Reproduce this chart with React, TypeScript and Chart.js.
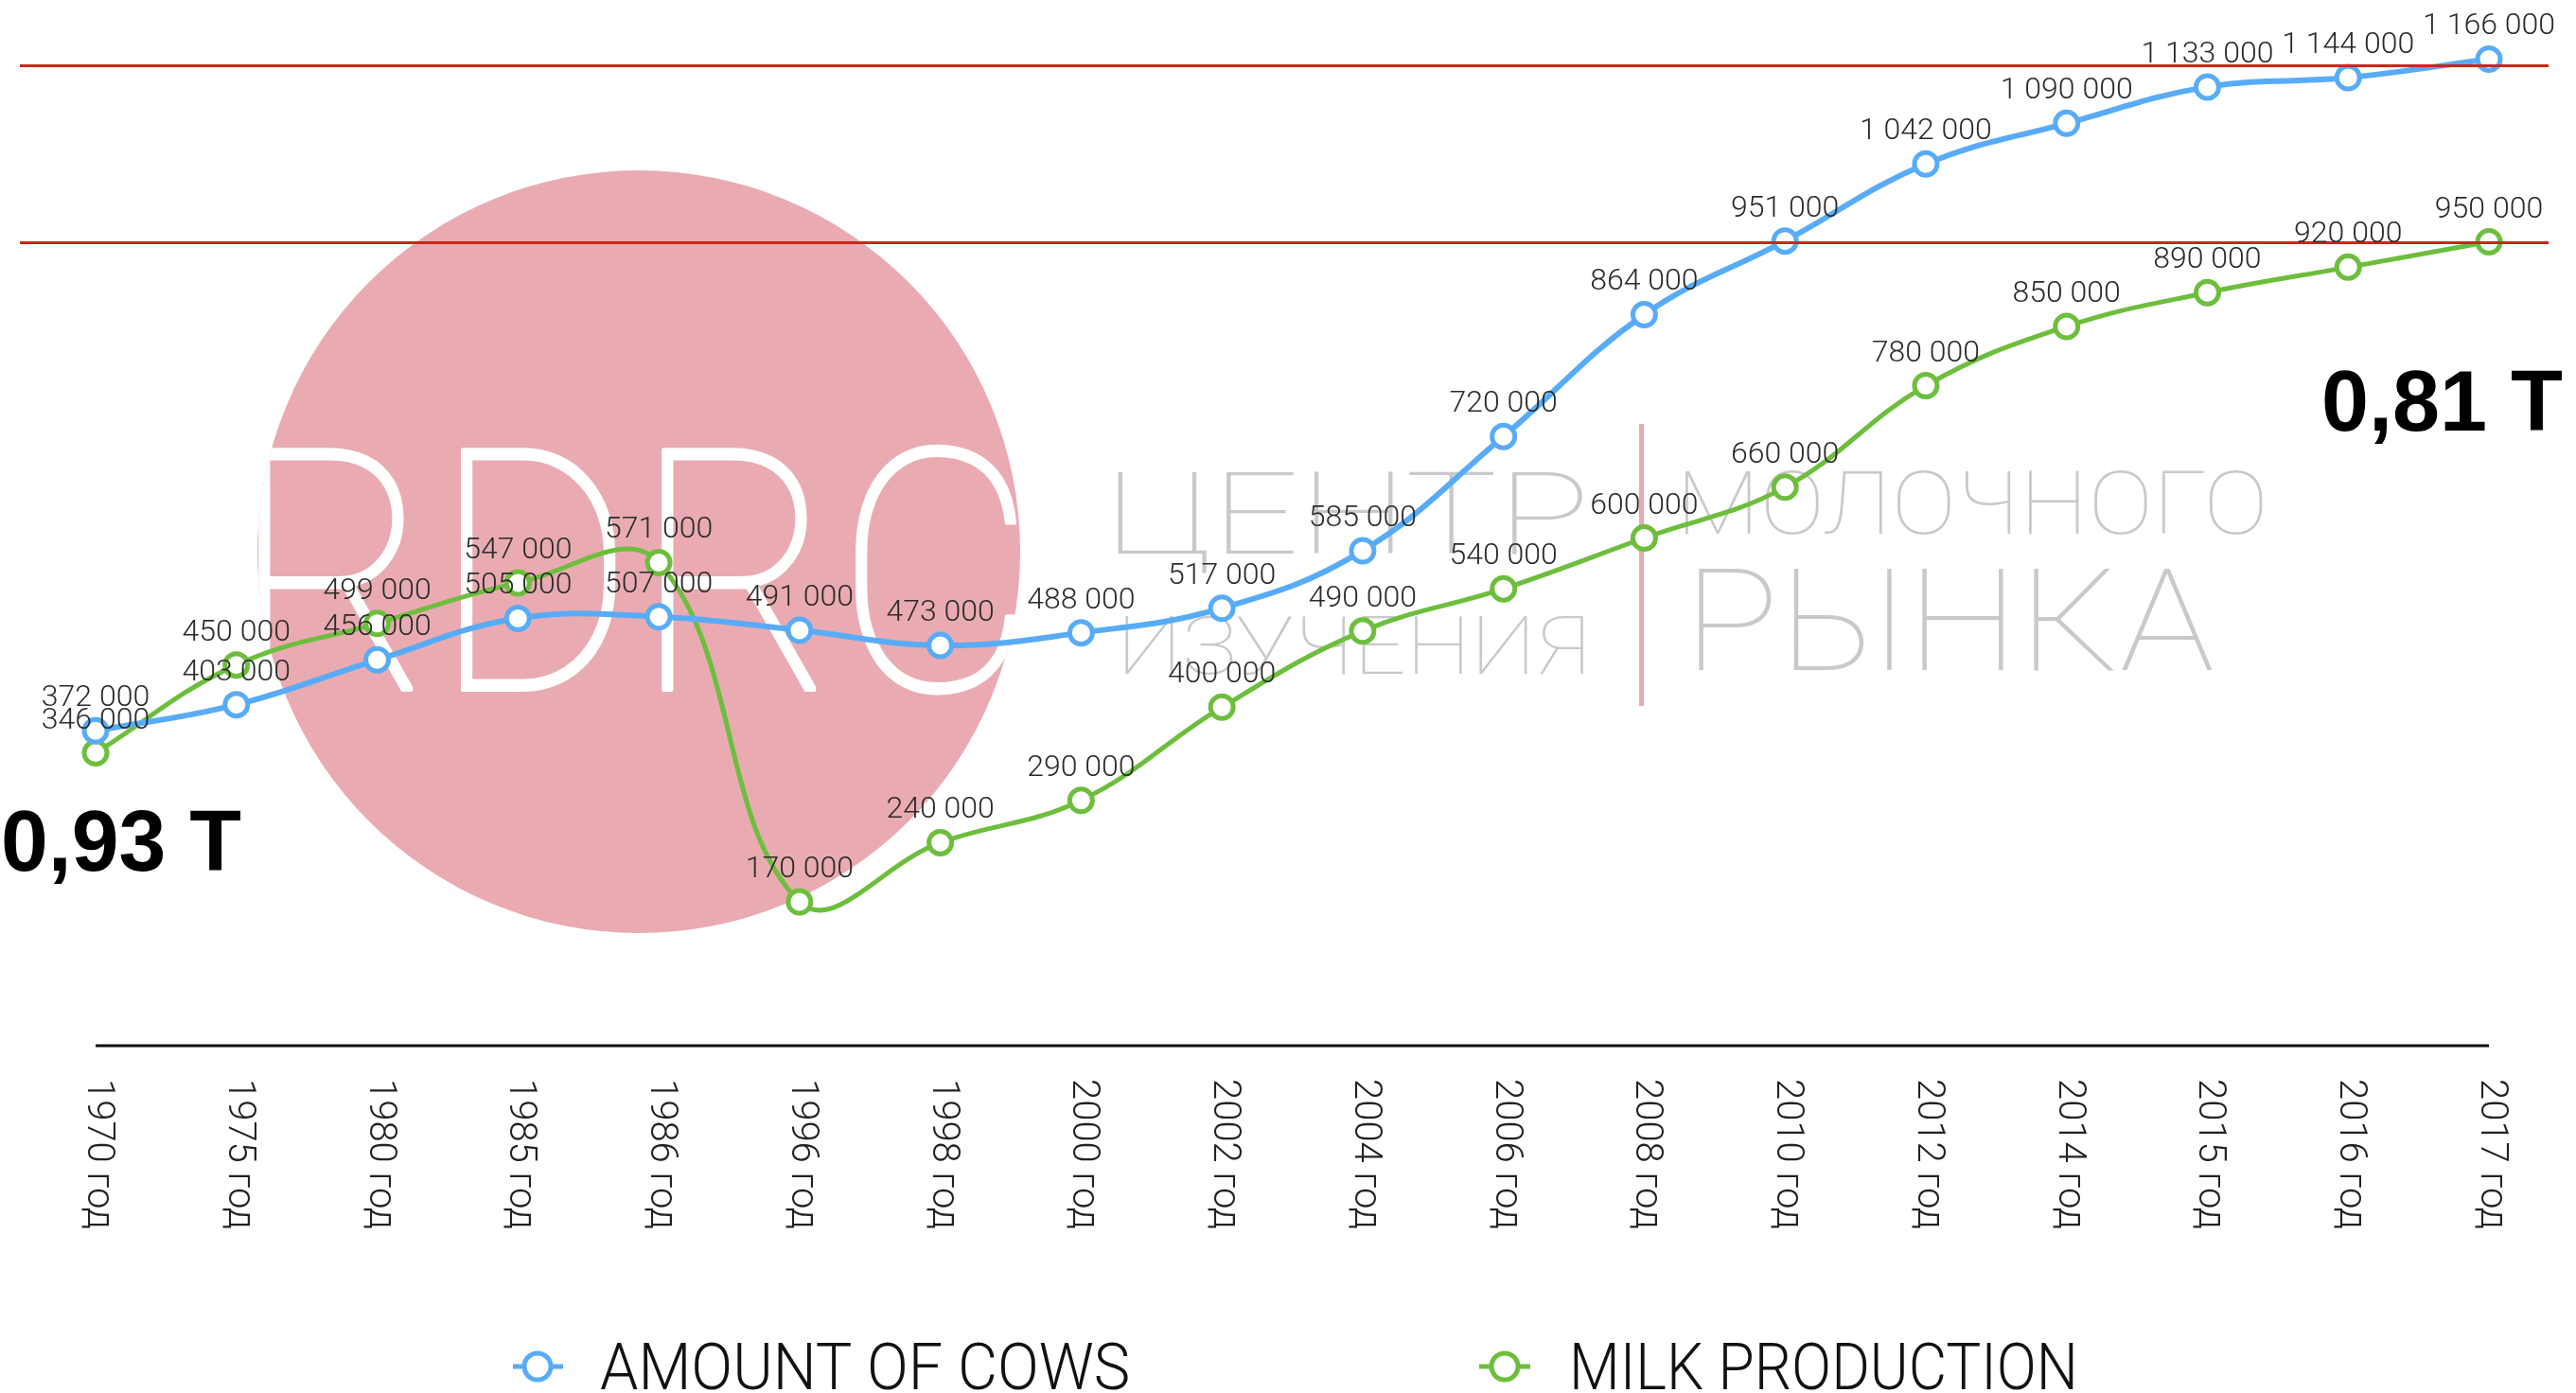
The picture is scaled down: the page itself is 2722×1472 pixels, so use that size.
import React, { useEffect, useRef } from "react";
import { Chart, registerables } from "chart.js";

Chart.register(...registerables);

const years = [
  "1970 год", "1975 год", "1980 год", "1985 год", "1986 год", "1996 год",
  "1998 год", "2000 год", "2002 год", "2004 год", "2006 год", "2008 год",
  "2010 год", "2012 год", "2014 год", "2015 год", "2016 год", "2017 год",
];
const cows = [
  372000, 403000, 456000, 505000, 507000, 491000, 473000, 488000, 517000,
  585000, 720000, 864000, 951000, 1042000, 1090000, 1133000, 1144000, 1166000,
];
const milk = [
  346000, 450000, 499000, 547000, 571000, 170000, 240000, 290000, 400000,
  490000, 540000, 600000, 660000, 780000, 850000, 890000, 920000, 950000,
];
const seriesNames = ["AMOUNT OF COWS", "MILK PRODUCTION"];
const refLines = [1159000, 950000];
const leftNote = "0,93 T";
const rightNote = "0,81 T";

const BLUE = "#58acf7";
const GREEN = "#6dbe3d";
const RED = "#c9281a";
const PINK = "#e9abb1";
const GRAY = "#c9c9c9";

const fmt = (v: number) => String(v).replace(/\B(?=(\d{3})+(?!\d))/g, " ");

function fitText(ctx: CanvasRenderingContext2D, text: string, x: number, baseline: number, width: number, font: string, color: string, stroke = 0) {
  ctx.save();
  ctx.font = font;
  const w = ctx.measureText(text).width || 1;
  ctx.translate(x, baseline);
  ctx.scale(width / w, 1);
  ctx.fillStyle = color;
  ctx.textAlign = "left";
  ctx.textBaseline = "alphabetic";
  ctx.fillText(text, 0, 0);
  if (stroke > 0) {
    ctx.strokeStyle = color;
    ctx.lineWidth = stroke;
    ctx.lineJoin = "round";
    ctx.strokeText(text, 0, 0);
  }
  ctx.restore();
}

const watermark = {
  id: "watermark",
  beforeDatasetsDraw(chart: any) {
    const ctx: CanvasRenderingContext2D = chart.ctx;
    ctx.save();
    ctx.beginPath();
    ctx.arc(675, 583, 403, 0, Math.PI * 2);
    ctx.fillStyle = PINK;
    ctx.fill();
    ctx.clip();
    fitText(ctx, "RDRC", 244, 729, 850, "100 357px Roboto, Lato, sans-serif", "#ffffff", 4);
    ctx.restore();

    const thin = (s: number) => `100 ${s}px Roboto, Lato, sans-serif`;
    fitText(ctx, "ЦЕНТР", 1167, 585, 513, thin(120), GRAY);
    fitText(ctx, "ИЗУЧЕНИЯ", 1180, 712, 500, thin(85), GRAY);
    fitText(ctx, "МОЛОЧНОГО", 1771, 564, 626, thin(92), GRAY);
    fitText(ctx, "РЫНКА", 1779, 708, 561, thin(151), GRAY);
    ctx.save();
    ctx.fillStyle = "#e8a9af";
    ctx.fillRect(1732, 448, 5, 298);
    ctx.restore();
  },
  afterDatasetsDraw(chart: any) {
    const ctx: CanvasRenderingContext2D = chart.ctx;
    const y = chart.scales.y;
    ctx.save();
    ctx.strokeStyle = RED;
    ctx.lineWidth = 3;
    refLines.forEach((v) => {
      const py = Math.round(y.getPixelForValue(v)) + 0.5;
      ctx.beginPath();
      ctx.moveTo(21, py);
      ctx.lineTo(2693, py);
      ctx.stroke();
    });
    ctx.restore();
  },
  afterDraw(chart: any) {
    const ctx: CanvasRenderingContext2D = chart.ctx;
    const xs = chart.scales.x;
    const ys = chart.scales.y;
    const area = chart.chartArea;

    // value labels
    ctx.save();
    ctx.font = "300 32px Roboto, 'Liberation Sans', sans-serif";
    ctx.fillStyle = "#2b2b2b";
    ctx.textAlign = "center";
    ctx.textBaseline = "alphabetic";
    [cows, milk].forEach((arr) => {
      arr.forEach((v, i) => {
        const px = xs.getPixelForValue(i);
        const py = ys.getPixelForValue(v);
        ctx.fillText(fmt(v), px, py - 26);
      });
    });
    ctx.restore();

    // axis line
    ctx.save();
    ctx.strokeStyle = "#111";
    ctx.lineWidth = 3;
    ctx.beginPath();
    ctx.moveTo(area.left, area.bottom);
    ctx.lineTo(area.right, area.bottom);
    ctx.stroke();
    ctx.restore();

    // tick labels rotated clockwise
    ctx.save();
    ctx.font = "300 40px Roboto, 'Liberation Sans', sans-serif";
    ctx.fillStyle = "#222";
    ctx.textAlign = "left";
    ctx.textBaseline = "middle";
    years.forEach((lab, i) => {
      const px = xs.getPixelForValue(i);
      ctx.save();
      ctx.translate(px + 2, area.bottom + 35);
      ctx.rotate(Math.PI / 2);
      ctx.fillText(lab, 0, 0);
      ctx.restore();
    });
    ctx.restore();

    // legend
    const legendItems = [
      { color: BLUE, cx: 568, x0: 542, x1: 595, tx: 634, tw: 560 },
      { color: GREEN, cx: 1590, x0: 1563, x1: 1617, tx: 1658, tw: 538 },
    ];
    legendItems.forEach((it, k) => {
      ctx.save();
      ctx.strokeStyle = it.color;
      ctx.lineWidth = 5;
      ctx.beginPath();
      ctx.moveTo(it.x0, 1444);
      ctx.lineTo(it.x1, 1444);
      ctx.stroke();
      ctx.beginPath();
      ctx.arc(it.cx, 1444, 14, 0, Math.PI * 2);
      ctx.fillStyle = "#fff";
      ctx.fill();
      ctx.stroke();
      ctx.restore();
      fitText(ctx, seriesNames[k], it.tx, 1468, it.tw, "300 68px Roboto, 'Liberation Sans', sans-serif", "#111");
    });

    // big notes
    fitText(ctx, leftNote, 1, 920, 254, "bold 90px 'Liberation Sans', Roboto, sans-serif", "#000");
    fitText(ctx, rightNote, 2453, 455, 255, "bold 90px 'Liberation Sans', Roboto, sans-serif", "#000");
  },
};

export default function App() {
  const ref = useRef<HTMLCanvasElement | null>(null);
  useEffect(() => {
    if (!ref.current) return;
    const chart = new Chart(ref.current, {
      type: "line",
      data: {
        labels: years,
        datasets: [
          {
            label: seriesNames[0],
            data: cows,
            borderColor: BLUE,
            borderWidth: 6,
            pointRadius: 12,
            pointBorderWidth: 5,
            pointBackgroundColor: "#ffffff",
            pointBorderColor: BLUE,
            tension: 0.4,
            fill: false,
            clip: false as any,
          },
          {
            label: seriesNames[1],
            data: milk,
            borderColor: GREEN,
            borderWidth: 5,
            pointRadius: 12,
            pointBorderWidth: 5,
            pointBackgroundColor: "#ffffff",
            pointBorderColor: GREEN,
            tension: 0.4,
            fill: false,
            clip: false as any,
          },
        ],
      },
      options: {
        responsive: true,
        maintainAspectRatio: false,
        animation: false,
        layout: { padding: { left: 101, right: 92, top: 32, bottom: 367 } },
        plugins: { legend: { display: false }, tooltip: { enabled: false } },
        scales: {
          x: { display: false },
          y: { display: false, min: 0, max: 1200000 },
        },
      },
      plugins: [watermark],
    });
    return () => chart.destroy();
  }, []);
  return (
    <div style={{ position: "fixed", left: 0, top: 0, width: 2722, height: 1472, background: "#fff" }}>
      <canvas ref={ref} />
    </div>
  );
}
